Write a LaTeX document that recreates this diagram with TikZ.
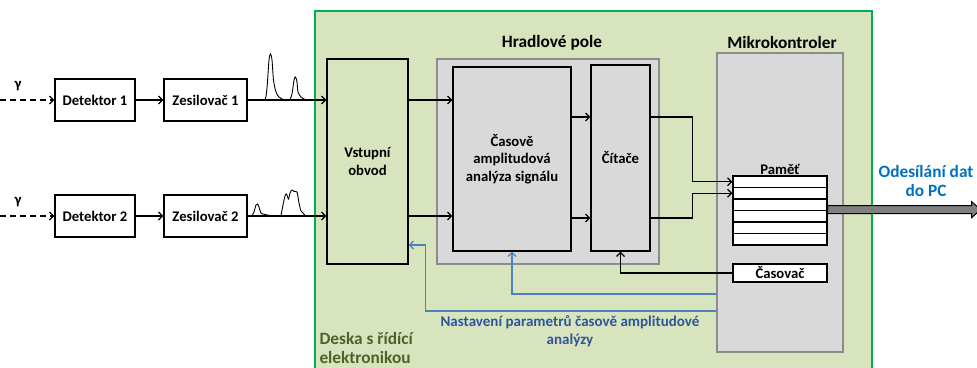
\documentclass[tikz,border=0pt]{standalone}
\usepackage{fontspec}
\setmainfont{Carlito}
\usepackage{tikz}
\usetikzlibrary {arrows.meta}

\definecolor{boardgreen}{RGB}{215,228,189}
\definecolor{boardline}{RGB}{0,176,80}
\definecolor{fpgagray}{RGB}{217,217,217}
\definecolor{fbblue}{RGB}{79,129,189}
\definecolor{notblue}{RGB}{47,85,151}
\definecolor{pcblue}{RGB}{0,112,192}
\definecolor{olive}{RGB}{79,98,40}

\begin{document}
\begin{tikzpicture}[x=1pt,y=-1pt, >={Straight Barb[length=4pt,width=8pt]},
  blok/.style={draw=black, line width=1.3pt, inner sep=0pt, align=center,
    font=\fontsize{14.7}{17.5}\selectfont\bfseries},
  sig/.style={->, line width=1.2pt},
  fb/.style={->, line width=1.2pt, draw=fbblue},
  puls/.style={line width=0.9pt, smooth, tension=0.5}]

\useasboundingbox (0,0) rectangle (977,367);

% deska s ridici elektronikou
\draw[fill=boardgreen, draw=boardline, line width=1.5pt] (315,11) rectangle (872,375);
\node[anchor=north west, align=left, text=olive, font=\fontsize{17.3}{19}\selectfont\bfseries]
  (deska) at (316,329) {Deska s řídící\\elektronikou};

% detektory a zesilovace
\node[blok, fill=white, minimum width=80, minimum height=42] (det1) at (95,100) {Detektor 1};
\node[blok, fill=white, minimum width=83, minimum height=42] (zes1) at (205.5,100) {Zesilovač 1};
\node[blok, fill=white, minimum width=80, minimum height=42] (det2) at (95,216) {Detektor 2};
\node[blok, fill=white, minimum width=83, minimum height=42] (zes2) at (205.5,216) {Zesilovač 2};

\coordinate (g1) at (0,100);
\coordinate (g2) at (0,216);
\node[font=\fontsize{14.7}{17}\selectfont\bfseries] (gam1) at (18,86) {γ};
\node[font=\fontsize{14.7}{17}\selectfont\bfseries] (gam2) at (18,202) {γ};
\draw[sig, dashed, dash pattern=on 6pt off 4pt] (g1) -- (det1);
\draw[sig, dashed, dash pattern=on 6pt off 4pt] (g2) -- (det2);
\draw[sig] (det1) -- (zes1);
\draw[sig] (det2) -- (zes2);

% vstupni obvod
\node[blok, minimum width=81, minimum height=205] (vstup) at (367.5,161.5) {Vstupní\\obvod};
\draw[sig] (zes1) -- (zes1 -| vstup.west);
\draw[sig] (zes2) -- (zes2 -| vstup.west);

% impulzy
\draw[puls] plot coordinates {(259,100) (265,99.5) (267,88) (269,60) (270.5,54) (272,60) (273.5,80) (276,92) (279,97) (283,99.5)};
\draw[puls] plot coordinates {(290,99.5) (292,94) (294,80) (295.5,77) (297,82) (298,92) (301,97) (305,99.5)};
\draw[puls] plot coordinates {(252,215.5) (254,212) (256,205) (257.5,204) (259,207) (261,213) (265,214.5) (270,215.5)};
\draw[puls] plot coordinates {(281,215.5) (283,205) (285,196) (286.5,194) (288.5,199) (290,193) (292,190) (294,191.5) (297,192) (299,203) (301,211) (303,213) (305,215.5)};

% hradlove pole
\node[draw=black!45, fill=fpgagray, line width=1.5pt, minimum width=222, minimum height=205]
  (hpole) at (548,161.5) {};
\node[font=\fontsize{17.3}{20}\selectfont\bfseries] (hplab) at (552,43) {Hradlové pole};
\node[blok, fill=fpgagray, minimum width=118, minimum height=184] (taa) at (512,159)
  {Časově\\amplitudová\\analýza signálu};
\node[blok, fill=fpgagray, minimum width=59, minimum height=186] (citace) at (620.5,158) {Čítače};
\draw[sig] (zes1 -| vstup.east) -- (zes1 -| taa.west);
\draw[sig] (zes2 -| vstup.east) -- (zes2 -| taa.west);
\draw[sig] ([yshift=42pt]taa.east) coordinate (t1) -- (t1 -| citace.west);
\draw[sig] ([yshift=-59pt]taa.east) coordinate (t2) -- (t2 -| citace.west);

% mikrokontroler
\node[draw=black!45, fill=fpgagray, line width=1.5pt, minimum width=126, minimum height=299]
  (mcu) at (780,202.5) {};
\node[font=\fontsize{17.3}{20}\selectfont\bfseries] (mculab) at (782,42) {Mikrokontroler};
\foreach \i in {0,...,5}
  \node[blok, fill=white, minimum width=94, minimum height=11.5] (pamet\i) at (780,181.75+11.5*\i) {};
\node[font=\fontsize{14.7}{17}\selectfont\bfseries, anchor=base] (pametlab) at (780,174) {Paměť};
\node[blok, fill=white, minimum width=94, minimum height=18] (casovac) at (780,273) {Časovač};

\draw[sig] ([yshift=41pt]citace.east) -- ++(42,0) |- (pamet0.west);
\draw[sig] ([yshift=-60pt]citace.east) -- ++(42,0) |- (pamet1.west);
\draw[sig] (casovac.west) -| (citace.south);

% zpetna vazba
\draw[fb] ([yshift=-91.5pt]mcu.west) -| (taa.south);
\draw[fb] ([yshift=-108.5pt]mcu.west) -- ++(-291,0) |- ([yshift=-83.5pt]vstup.east);
\node[align=center, text=notblue, font=\fontsize{15}{18}\selectfont\bfseries] (nastav) at (570,331)
  {Nastavení parametrů časově amplitudové\\analýzy};

% vystup do PC
\coordinate (out) at ([yshift=1.5pt]pamet2.south east);
\draw[fill=black!50, draw=black, line width=1pt] ([yshift=4pt]out) -- ++(144,0) -- ++(0,-4)
  -- ++(9,8) -- ++(-9,8) -- ++(0,-4) -- ++(-144,0) -- cycle;
\node[align=center, text=pcblue, font=\fontsize{17.3}{19.5}\selectfont\bfseries] (pc) at (926,181)
  {Odesílání dat\\do PC};

\end{tikzpicture}
\end{document}
